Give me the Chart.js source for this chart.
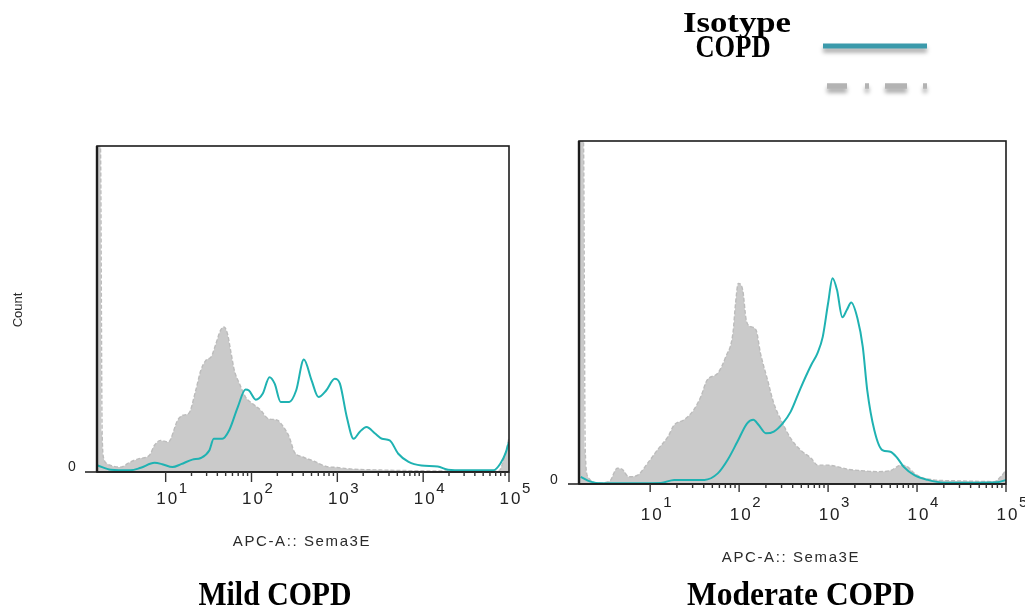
<!DOCTYPE html>
<html lang="en">
<head>
    <meta charset="UTF-8">
    <title>Sema3E expression - Mild vs Moderate COPD</title>
    <script src="https://cdn.jsdelivr.net/npm/chart.js"></script>
    <style>
        body {
            margin: 0;
            padding: 0;
            background: #ffffff;
        }
        .stage {
            position: relative;
            width: 1025px;
            height: 611px;
        }
        .stage canvas {
            position: absolute;
            left: 0;
            top: 0;
        }
    </style>
</head>
<body>
    <div class="stage">
        <canvas id="mildChart" width="1025" height="611"></canvas>
        <canvas id="moderateChart" width="1025" height="611"></canvas>
    </div>

    <script>
        // x values are log10 of APC-A intensity, y values are relative counts (100 = top of the plot)
        const mildCopdX = [0.21, 0.36, 0.59, 0.71, 0.87, 0.96, 1.08, 1.18, 1.31, 1.41, 1.51, 1.56, 1.66, 1.74, 1.84, 1.93, 1.97, 2.05, 2.13, 2.21, 2.27, 2.34, 2.44, 2.52, 2.61, 2.70, 2.78, 2.87, 2.97, 3.03, 3.11, 3.19, 3.26, 3.34, 3.44, 3.52, 3.61, 3.71, 3.83, 3.98, 4.17, 4.29, 4.48, 4.82, 4.90, 4.96, 5.0];
        const mildCopdY = [2, 0.7, 0.5, 1.3, 2.8, 2.4, 1.5, 2.4, 3.8, 4.3, 6.7, 10.2, 10.2, 12.8, 19.9, 25.3, 25, 22.2, 24, 29.1, 27.1, 21.5, 21.5, 25, 34.5, 28.1, 23, 25, 28.6, 27.1, 16.9, 10.2, 12.3, 13.8, 11.8, 10.2, 9.7, 5.6, 3.1, 2, 1.7, 0.7, 0.5, 0.5, 2.6, 5.8, 9.2];

        const mildIsoX = [0.2, 0.24, 0.26, 0.28, 0.32, 0.36, 0.47, 0.59, 0.69, 0.81, 0.87, 0.94, 1.03, 1.14, 1.20, 1.27, 1.35, 1.41, 1.47, 1.53, 1.58, 1.64, 1.68, 1.72, 1.76, 1.80, 1.86, 1.93, 2.01, 2.11, 2.19, 2.30, 2.36, 2.44, 2.50, 2.60, 2.73, 2.87, 3.0, 3.12, 3.51, 3.9, 4.29, 4.88, 4.96, 5.0];
        const mildIsoY = [100, 100, 12, 4, 2.5, 2, 1.5, 3.1, 4.1, 5.1, 8.2, 9.7, 9.2, 15.9, 17.4, 18, 25, 31.2, 34.3, 35.3, 38.9, 43.5, 44.5, 42.4, 36.8, 31.2, 27.1, 23, 21, 18.9, 16.4, 15.9, 14.3, 10.7, 6.1, 4.6, 3.3, 1.7, 1.4, 1.0, 0.6, 0.4, 0.3, 0.3, 6, 10.5];

        const modCopdX = [0.22, 0.33, 0.45, 1.12, 1.27, 1.61, 1.76, 1.87, 1.98, 2.09, 2.16, 2.22, 2.30, 2.39, 2.49, 2.58, 2.69, 2.81, 2.88, 2.94, 3.0, 3.05, 3.10, 3.16, 3.21, 3.26, 3.33, 3.39, 3.44, 3.52, 3.61, 3.70, 3.78, 3.85, 3.97, 4.12, 4.30, 4.68, 4.90, 5.0];
        const modCopdY = [2.1, 0.7, 0.2, 0.3, 1.2, 1.2, 3.1, 7, 12.3, 17.7, 18.7, 17.2, 14.8, 15.3, 17.7, 21.1, 27.9, 34.7, 38.1, 42.9, 52.7, 60, 56.6, 48.6, 50.7, 52.9, 48.3, 40, 27.4, 15.7, 9.9, 9.4, 7.5, 5.0, 2.6, 1.2, 0.4, 0.4, 0.5, 1.2];

        const modIsoX = [0.2, 0.25, 0.27, 0.30, 0.41, 0.54, 0.63, 0.69, 0.76, 0.86, 0.97, 1.08, 1.2, 1.27, 1.38, 1.49, 1.57, 1.64, 1.76, 1.85, 1.93, 1.96, 1.99, 2.04, 2.08, 2.13, 2.19, 2.24, 2.32, 2.39, 2.47, 2.58, 2.69, 2.81, 2.88, 2.99, 3.1, 3.22, 3.37, 3.55, 3.70, 3.82, 3.89, 3.97, 4.04, 4.19, 4.49, 4.87, 4.94, 5.0];
        const modIsoY = [100, 100, 10, 2.1, 0.3, 0.7, 4.6, 4.2, 2.1, 2.6, 6, 9.9, 13.8, 17.2, 18.7, 21.6, 25.5, 30.3, 32.3, 37.1, 43.9, 52.7, 58.5, 56.6, 47.8, 45.9, 44.9, 38.1, 30.3, 23.5, 18.7, 13.3, 9.9, 7.5, 5.5, 5.5, 5.1, 4.3, 3.9, 3.6, 3.9, 5.5, 5.1, 3.1, 2, 1.2, 0.9, 0.7, 2.1, 4];

        // decade ticks 10^1 .. 10^5
        const tickBase = '10';
        const tickExponents = [1, 2, 3, 4, 5];
        const minorSteps = [2, 3, 4, 5, 6, 7, 8, 9];

        const xAxisTitle = 'APC-A:: Sema3E';
        const yAxisTitle = 'Count';
        const yZeroLabel = '0';
        const legendLabels = ['Isotype', 'COPD'];

        const TEAL = '#1fb2b2';
        const ISO_FILL = '#cacaca';
        const ISO_EDGE = '#bcbcbc';

        function toPoints(xs, ys) {
            return xs.map((x, i) => ({ x: x, y: ys[i] }));
        }

        // draws text squeezed/stretched to a given width
        function fitText(ctx, text, cx, y, w, font) {
            ctx.save();
            ctx.font = font;
            const m = ctx.measureText(text).width;
            ctx.translate(cx, y);
            ctx.scale(w / m, 1);
            ctx.textAlign = 'center';
            ctx.textBaseline = 'alphabetic';
            ctx.fillText(text, 0, 0);
            ctx.restore();
        }

        // frame, log ticks, labels and titles for a histogram panel
        const flowPanel = {
            id: 'flowPanel',
            afterDraw(chart, args, opts) {
                const ctx = chart.ctx;
                const area = chart.chartArea;
                const xs = chart.scales.x;
                ctx.save();

                // box
                ctx.strokeStyle = '#1c1c1c';
                ctx.lineWidth = 1.6;
                ctx.strokeRect(area.left, area.top, area.right - area.left, area.bottom - area.top);
                ctx.lineWidth = 2.4;
                ctx.beginPath();
                ctx.moveTo(area.left, area.top);
                ctx.lineTo(area.left, area.bottom);
                ctx.stroke();

                // x axis line, extended to the left as the zero tick
                ctx.lineWidth = 1.6;
                ctx.beginPath();
                ctx.moveTo(opts.axisStart, area.bottom);
                ctx.lineTo(area.right, area.bottom);
                ctx.stroke();

                // major and minor ticks
                ctx.strokeStyle = '#333';
                ctx.lineWidth = 1.4;
                tickExponents.forEach(e => {
                    const px = xs.getPixelForValue(e);
                    ctx.beginPath();
                    ctx.moveTo(px, area.bottom);
                    ctx.lineTo(px, area.bottom + opts.majorLen);
                    ctx.stroke();
                    if (e < 5) {
                        minorSteps.forEach(k => {
                            const mx = xs.getPixelForValue(e + Math.log10(k));
                            ctx.beginPath();
                            ctx.moveTo(mx, area.bottom);
                            ctx.lineTo(mx, area.bottom + 4);
                            ctx.stroke();
                        });
                    }
                });

                // tick labels 10^n
                ctx.fillStyle = '#222';
                ctx.textBaseline = 'alphabetic';
                tickExponents.forEach(e => {
                    const px = xs.getPixelForValue(e);
                    ctx.font = '17px "Liberation Sans", Arial, sans-serif';
                    ctx.textAlign = 'center';
                    ctx.letterSpacing = '2px';
                    ctx.fillText(tickBase, px + 2, opts.tickY);
                    ctx.letterSpacing = '0px';
                    ctx.font = '15px "Liberation Sans", Arial, sans-serif';
                    ctx.textAlign = 'left';
                    ctx.fillText(String(e), px + 13, opts.expY);
                });

                // zero label on the count axis
                ctx.font = '14px "Liberation Sans", Arial, sans-serif';
                ctx.textAlign = 'center';
                ctx.fillText(yZeroLabel, opts.zeroX, opts.zeroY);

                // axis title
                ctx.fillStyle = '#2a2a2a';
                ctx.font = '15px "Liberation Sans", Arial, sans-serif';
                ctx.letterSpacing = '1.6px';
                ctx.fillText(xAxisTitle, opts.titleX, opts.titleY);
                ctx.letterSpacing = '0px';

                if (opts.showCount) {
                    ctx.save();
                    ctx.translate(22, 310);
                    ctx.rotate(-Math.PI / 2);
                    ctx.font = '13px "Liberation Sans", Arial, sans-serif';
                    ctx.fillText(yAxisTitle, 0, 0);
                    ctx.restore();
                }

                // panel caption
                ctx.fillStyle = '#000';
                fitText(ctx, opts.caption, opts.captionX, 605, opts.captionW, 'bold 33px "Liberation Serif", serif');

                if (opts.showLegend) {
                    fitText(ctx, legendLabels[0], 737, 32, 108, 'bold 30px "Liberation Serif", serif');
                    fitText(ctx, legendLabels[1], 733, 57, 75, 'bold 31px "Liberation Serif", serif');

                    ctx.shadowColor = 'rgba(0,0,0,0.35)';
                    ctx.shadowBlur = 4;
                    ctx.shadowOffsetY = 4;
                    ctx.lineCap = 'butt';
                    ctx.strokeStyle = '#3b9aab';
                    ctx.lineWidth = 5;
                    ctx.beginPath();
                    ctx.moveTo(823, 46);
                    ctx.lineTo(927, 46);
                    ctx.stroke();

                    ctx.strokeStyle = '#b3b3b3';
                    ctx.lineWidth = 5.5;
                    ctx.setLineDash([20, 18, 4, 16, 22, 16, 4, 100]);
                    ctx.beginPath();
                    ctx.moveTo(827, 86);
                    ctx.lineTo(927, 86);
                    ctx.stroke();
                }
                ctx.restore();
            }
        };

        function makePanel(id, copdX, copdY, isoX, isoY, pad, panelOpts) {
            return new Chart(document.getElementById(id).getContext('2d'), {
                type: 'line',
                data: {
                    datasets: [
                        {
                            label: 'COPD',
                            data: toPoints(copdX, copdY),
                            borderColor: TEAL,
                            borderWidth: 2,
                            pointRadius: 0,
                            fill: false,
                            cubicInterpolationMode: 'monotone'
                        },
                        {
                            label: 'Isotype',
                            data: toPoints(isoX, isoY),
                            borderColor: ISO_EDGE,
                            borderWidth: 1.4,
                            borderDash: [4, 2],
                            backgroundColor: ISO_FILL,
                            pointRadius: 0,
                            fill: 'origin',
                            cubicInterpolationMode: 'monotone'
                        }
                    ]
                },
                options: {
                    responsive: false,
                    animation: false,
                    layout: { padding: pad },
                    plugins: {
                        legend: { display: false },
                        tooltip: { enabled: false },
                        flowPanel: panelOpts
                    },
                    scales: {
                        x: { type: 'linear', min: 0.2, max: 5, display: false },
                        y: { type: 'linear', min: 0, max: 100, display: false }
                    }
                },
                plugins: [flowPanel]
            });
        }

        window.onload = () => {
            makePanel('mildChart', mildCopdX, mildCopdY, mildIsoX, mildIsoY,
                { left: 97, right: 516, top: 146, bottom: 139 },
                {
                    axisStart: 85, majorLen: 10, tickY: 504, expY: 493,
                    zeroX: 72, zeroY: 471, titleX: 302, titleY: 546,
                    showCount: true, caption: 'Mild COPD', captionX: 275, captionW: 153,
                    showLegend: false
                });
            makePanel('moderateChart', modCopdX, modCopdY, modIsoX, modIsoY,
                { left: 579, right: 19, top: 141, bottom: 127 },
                {
                    axisStart: 568, majorLen: 8, tickY: 520, expY: 507,
                    zeroX: 554, zeroY: 484, titleX: 791, titleY: 562,
                    showCount: false, caption: 'Moderate COPD', captionX: 801, captionW: 228,
                    showLegend: true
                });
        };
    </script>
</body>
</html>
